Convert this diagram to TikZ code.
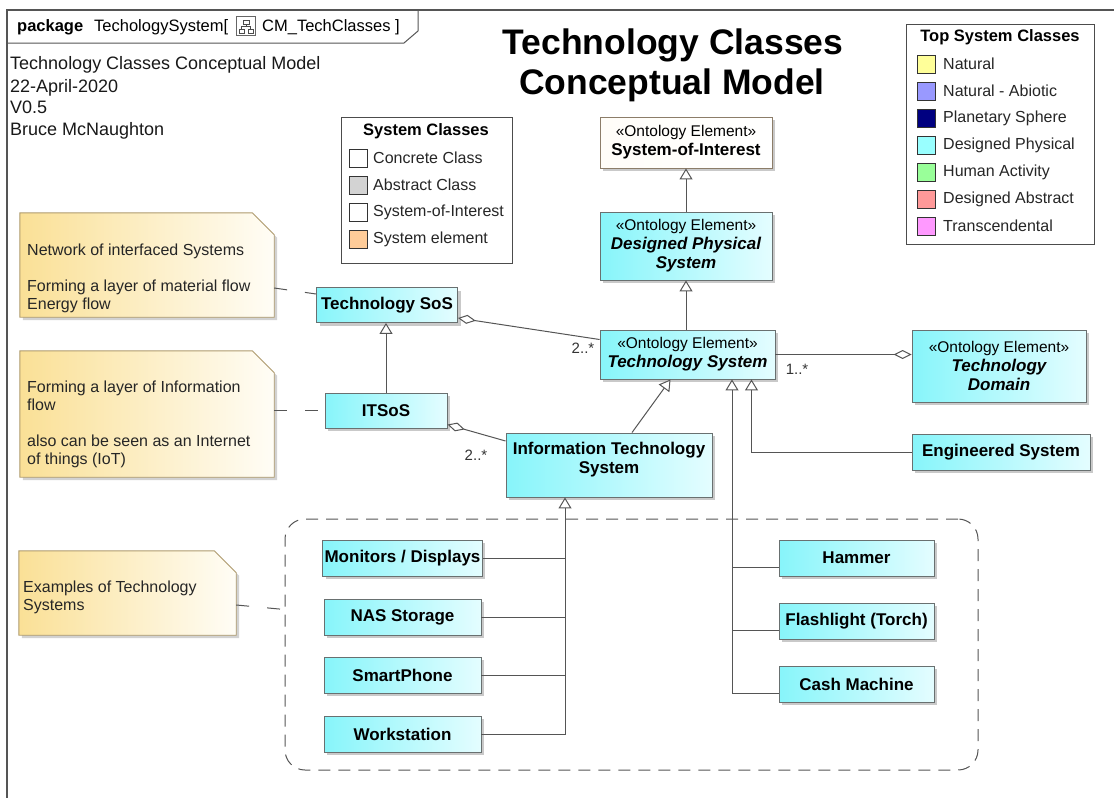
\documentclass[tikz,border=0pt]{standalone}
\usepackage{fontspec}
\setmainfont{Liberation Sans}
\usetikzlibrary{arrows.meta,shadows,calc}
\definecolor{lineC}{RGB}{85,85,85}
\definecolor{boxL}{RGB}{135,245,250}
\definecolor{boxR}{RGB}{228,253,255}
\definecolor{boxB}{RGB}{105,112,112}
\definecolor{noteL}{RGB}{250,224,150}
\definecolor{noteR}{RGB}{255,253,246}
\definecolor{noteB}{RGB}{175,155,110}
\definecolor{soiF}{RGB}{255,253,248}
\definecolor{soiB}{RGB}{140,125,105}
\definecolor{cNat}{RGB}{255,255,153}
\definecolor{cAbio}{RGB}{153,153,255}
\definecolor{cPlan}{RGB}{0,0,128}
\definecolor{cDes}{RGB}{153,255,255}
\definecolor{cHum}{RGB}{153,255,153}
\definecolor{cAbs}{RGB}{255,153,153}
\definecolor{cTr}{RGB}{255,153,255}
\definecolor{cAbsCl}{RGB}{211,211,211}
\definecolor{cElem}{RGB}{255,204,153}
\newcommand\fsN{\fontsize{16}{18}\selectfont}
\newcommand\fsB{\fontsize{17}{19}\selectfont\bfseries}
\newcommand\fsBI{\fontsize{17}{19}\selectfont\bfseries\itshape}
\newcommand\fsS{\fontsize{15.5}{20}\selectfont\mdseries\upshape}
\begin{document}
\begin{tikzpicture}[x={(1pt,0)},y={(0,-1pt)},
  cls/.style={draw=boxB, line width=0.9pt, left color=boxL, right color=boxR,
    drop shadow={shadow xshift=3pt, shadow yshift=-3pt, fill=black!35, opacity=0.6},
    inner sep=2pt, align=center, font=\fsB},
  soibox/.style={cls, draw=soiB, left color=soiF, right color=white},
  notebox/.style={inner sep=0pt, draw=none},
  notepath/.style={draw=noteB, line width=0.9pt, left color=noteL, right color=noteR,
    drop shadow={shadow xshift=3pt, shadow yshift=-3pt, fill=black!35, opacity=0.5}},
  notetxt/.style={anchor=north west, inner sep=0pt, align=left, font=\fsN, text=black!85},
  conn/.style={draw=lineC, line width=1pt},
  gen/.style={conn, -{Triangle[length=11pt, width=13pt, fill=white]}},
  aggr/.style={conn, {Diamond[length=18pt, width=9pt, fill=white]}-},
  ndash/.style={conn, dash pattern=on 13pt off 18pt},
  swatch/.style={draw=black!80, line width=0.8pt, minimum width=18pt, minimum height=18pt, inner sep=0pt},
  legtxt/.style={anchor=west, inner sep=0pt, font=\fsN, text=black!85},
  mult/.style={font=\fontsize{15}{17}\selectfont, text=black!80, inner sep=0pt},
  infotxt/.style={anchor=base west, inner sep=0pt, font=\fontsize{18}{20}\selectfont, text=black!90},
  tabtxt/.style={anchor=base west, inner sep=0pt, font=\fontsize{16.5}{18}\selectfont}
]
\useasboundingbox (0,0) rectangle (1114,798);
\fill[white] (0,0) rectangle (1114,798);

% frame
\draw[lineC, line width=1.4pt] (7,798) -- (7,10) -- (1114,10);
\draw[lineC, line width=1pt] (7,43) -- (404,43) -- (418,31) -- (418,10);
\node[tabtxt, font=\fontsize{16.5}{18}\selectfont\bfseries] (pkg) at (17,31) {package};
\node[tabtxt] (pkgname) at (94,31) {TechologySystem[};
\node[draw=black!60, line width=0.7pt, minimum width=19pt, minimum height=19pt, inner sep=0pt] (icon) at (246,26) {};
\draw[black!70, line width=0.7pt] ($(icon.center)+(-3,-6)$) rectangle ($(icon.center)+(3,-2)$)
  ($(icon.center)+(-7,3)$) rectangle ($(icon.center)+(-2,7)$)
  ($(icon.center)+(2,3)$) rectangle ($(icon.center)+(7,7)$)
  ($(icon.center)+(0,-2)$) -- ($(icon.center)+(0,0.5)$) ($(icon.center)+(-4.5,3)$) -- ($(icon.center)+(-4.5,0.5)$) -- ($(icon.center)+(4.5,0.5)$) -- ($(icon.center)+(4.5,3)$);
\node[tabtxt] (diagname) at (262,31) {CM\_TechClasses ]};

% info text
\node[infotxt] (info1) at (10,69) {Technology Classes Conceptual Model};
\node[infotxt] (info2) at (10,92) {22-April-2020};
\node[infotxt] (info3) at (10,113) {V0.5};
\node[infotxt] (info4) at (10,135) {Bruce McNaughton};

% title
\node[inner sep=0pt, font=\fontsize{35.5}{40}\selectfont\bfseries] (title1) at (673,45) {Technology Classes};
\node[inner sep=0pt, font=\fontsize{35.5}{40}\selectfont\bfseries] (title2) at (672,85) {Conceptual Model};

% Top System Classes legend
\node[draw=black!70, line width=0.9pt, minimum width=188pt, minimum height=220pt, inner sep=0pt] (lgA) at (1000,134) {};
\node[inner sep=0pt, font=\fontsize{16.5}{18}\selectfont\bfseries] (lgAtitle) at (1000,37) {Top System Classes};
\foreach \c/\t [count=\i] in {cNat/Natural, cAbio/Natural - Abiotic, cPlan/Planetary Sphere, cDes/Designed Physical, cHum/Human Activity, cAbs/Designed Abstract, cTr/Transcendental} {
  \node[swatch, fill=\c] (lgAs\i) at (926, {64+27*(\i-1)}) {};
  \node[legtxt] (lgAt\i) at (943, {64+27*(\i-1)}) {\t};
}

% System Classes legend
\node[draw=black!70, line width=0.9pt, minimum width=171pt, minimum height=146pt, inner sep=0pt] (lgB) at (426.5,190) {};
\node[inner sep=0pt, font=\fontsize{16.5}{18}\selectfont\bfseries] (lgBtitle) at (426,131) {System Classes};
\foreach \c/\t [count=\i] in {white/Concrete Class, cAbsCl/Abstract Class, white/System-of-Interest, cElem/System element} {
  \node[swatch, fill=\c] (lgBs\i) at (358, {158+27*(\i-1)}) {};
  \node[legtxt] (lgBt\i) at (373, {158+27*(\i-1)}) {\t};
}

% class boxes
\node[soibox, minimum width=172pt, minimum height=51pt] (soi) at (686,142.5) {{\fsS «Ontology Element»}\\{\fsB System-of-Interest}};
\node[cls, minimum width=172pt, minimum height=68pt] (dps) at (686,246) {{\fsS «Ontology Element»}\\{\fsBI Designed Physical}\\{\fsBI System}};
\node[cls, minimum width=175pt, minimum height=49pt] (ts) at (687.5,354.5) {{\fsS «Ontology Element»}\\{\fsBI Technology System}};
\node[cls, minimum width=174pt, minimum height=72pt] (td) at (999,366) {{\fsS «Ontology Element»}\\{\fsBI Technology}\\{\fsBI Domain}};
\node[cls, minimum width=178pt, minimum height=36pt] (es) at (1001,452) {Engineered System};
\node[cls, minimum width=141pt, minimum height=35pt] (tsos) at (387,305) {Technology SoS};
\node[cls, minimum width=122pt, minimum height=35pt] (itsos) at (386,410.5) {ITSoS};
\node[cls, minimum width=206pt, minimum height=64pt] (its) at (609,465) {};
\node[anchor=north, inner sep=0pt, align=center, font=\fsB] (itstxt) at ([yshift=-9pt]its.north) {Information Technology\\System};

% group
\node[draw=lineC, line width=1pt, dash pattern=on 12pt off 8pt, rounded corners=20pt, minimum width=693pt, minimum height=251pt, inner sep=0pt] (grp) at (631.5,644.5) {};

\node[cls, minimum width=157pt, minimum height=36pt] (mon) at (402.5,558) {Monitors / Displays};
\node[cls, minimum width=157pt, minimum height=36pt] (nas) at (402.5,617) {NAS Storage};
\node[cls, minimum width=157pt, minimum height=36pt] (sph) at (402.5,675) {SmartPhone};
\node[cls, minimum width=157pt, minimum height=36pt] (wst) at (402.5,734) {Workstation};
\node[cls, minimum width=155pt, minimum height=36pt] (ham) at (856.5,558) {Hammer};
\node[cls, minimum width=155pt, minimum height=36pt] (fla) at (856.5,621) {Flashlight (Torch)};
\node[cls, minimum width=155pt, minimum height=36pt] (cas) at (856.5,684) {Cash Machine};

% notes
\node[notebox, minimum width=254pt, minimum height=104pt] (n1) at (147,265) {};
\node[notebox, minimum width=254pt, minimum height=126pt] (n2) at (147,414) {};
\node[notebox, minimum width=217pt, minimum height=84pt] (n3) at (127.5,593) {};
\foreach \n in {n1,n2,n3} {
  \path[notepath] (\n.south west) -- (\n.north west) -- ([xshift=-22pt]\n.north east) -- ([yshift=-22pt]\n.north east) -- (\n.south east) -- cycle;
}
\node[notetxt] (n1t) at (27,244) {Network of interfaced Systems\\[18pt]Forming a layer of material flow\\Energy flow};
\node[notetxt] (n2t) at (27,381) {Forming a layer of Information\\flow\\[18pt]also can be seen as an Internet\\of things (IoT)};
\node[notetxt] (n3t) at (23,581) {Examples of Technology\\Systems};

% note links
\draw[ndash] ([yshift=-23pt]n1.east) -- ([yshift=11pt]tsos.west);
\draw[ndash] (n2.east |- itsos.west) -- (itsos.west);
\draw[ndash] ([yshift=-12pt]n3.east) -- ([yshift=35pt]grp.west);

% generalizations
\draw[gen] (dps.north) -- (soi.south);
\draw[gen] (dps.south |- ts.north) -- (dps.south);
\draw[gen] (itsos.north) -- (itsos.north |- tsos.south);
\draw[gen] ([xshift=23pt]its.north) -- ([xshift=-17pt]ts.south);
\coordinate (trE) at ([xshift=64pt]ts.south);
\coordinate (trH) at ([xshift=44.5pt]ts.south);
\coordinate (trI) at ([xshift=-44pt]its.south);
\draw[gen] (es.west) -| (trE);
\draw[gen] ([yshift=-9pt]cas.west) -| (trH);
\draw[conn] ([yshift=-9pt]ham.west) -- ([yshift=-9pt]ham.west -| trH);
\draw[conn] ([yshift=-9pt]fla.west) -- ([yshift=-9pt]fla.west -| trH);
\draw[gen] (wst.east) -| (trI);
\draw[conn] (mon.east) -- (mon.east -| trI);
\draw[conn] (nas.east) -- (nas.east -| trI);
\draw[conn] (sph.east) -- (sph.east -| trI);

% aggregations
\draw[aggr] ([yshift=-13pt]tsos.east) -- ([yshift=15pt]ts.west);
\draw[aggr] ([yshift=-14pt]itsos.east) -- ([yshift=24pt]its.west);
\draw[aggr] (td.west |- ts.east) -- (ts.east);
\node[mult] (m1) at (583,348) {2..*};
\node[mult] (m2) at (476,455) {2..*};
\node[mult] (m3) at (797,369) {1..*};
\end{tikzpicture}
\end{document}
